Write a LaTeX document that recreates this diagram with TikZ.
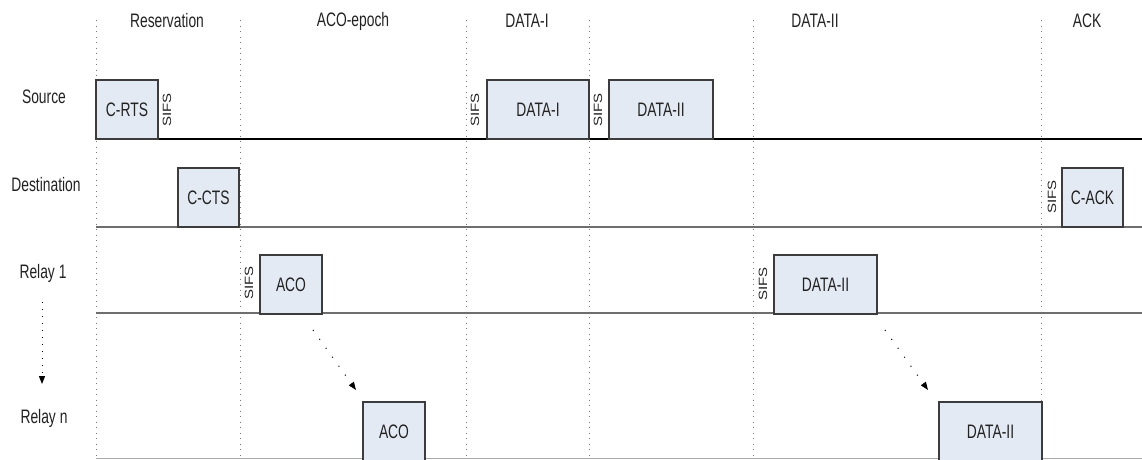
\documentclass[tikz,border=0pt]{standalone}
\usepackage{fontspec}
\setmainfont{Liberation Sans}[FakeStretch=0.71]
\newfontfamily\sifsfont{Liberation Sans}
\usetikzlibrary{arrows.meta}
\definecolor{pktfill}{HTML}{E4EAF4}
\definecolor{pktdraw}{HTML}{3C3C3C}
\definecolor{txt}{HTML}{222222}
\definecolor{gridgray}{HTML}{7A7A7A}
\definecolor{lanegray}{HTML}{6E6E6E}
\begin{document}
\begin{tikzpicture}[x=1pt,y=-1pt,
  every node/.style={inner sep=0pt,outer sep=0pt,text=txt,font=\fontsize{19.5}{21}\selectfont},
  pkt/.style={draw=pktdraw,line width=1.4pt,fill=pktfill,anchor=north west,minimum height=59pt},
  sifs/.style={rotate=90,font=\fontsize{15}{16}\sifsfont},
  epochline/.style={gridgray,line width=1pt,dash pattern=on 1pt off 4.5pt},
  srcline/.style={black,line width=1.6pt},
  laneline/.style={lanegray,line width=2.4pt},
  hint/.style={black,line width=1pt,dash pattern=on 1pt off 6pt,-{Triangle[length=8pt,width=6pt]}},
  diaghint/.style={hint,dash pattern=on 1pt off 10pt}]
\useasboundingbox (0,0) rectangle (1142,459);

% epoch boundaries
\foreach \xx in {96,240,466,589,753,1041}
  \draw[epochline] (\xx,20) -- (\xx,459);

% epoch headings
\node (hres) at (167,21) {Reservation};
\node (haco) at (353,21) {ACO-epoch};
\node (hd1)  at (527,21) {DATA-I};
\node (hd2)  at (815,21) {DATA-II};
\node (hack) at (1087,21) {ACK};

% station labels
\node (lsrc) at (44,97)  {Source};
\node (ldst) at (46,185) {Destination};
\node (lr1)  at (43,273) {Relay 1};
\node (lrn)  at (44,418) {Relay n};
\coordinate (r1down) at (42,302);
\coordinate (rnup)   at (42,384);
\draw[hint] (r1down) -- (rnup);

% time axes of the stations
\draw[srcline]  (96,139) -- (1142,139);
\draw[laneline] (96,227) -- (1142,227);
\draw[laneline] (96,313) -- (1142,313);
\draw[lanegray!60,line width=1.5pt] (96,458.5) -- (1142,458.5);

% source frames
\node[pkt,minimum width=62pt]  (crts)  at (96,80)  {C-RTS};
\node[pkt,minimum width=102pt] (data1) at (487,80) {DATA-I};
\node[pkt,minimum width=104pt] (data2) at (609,80) {DATA-II};
% destination frames
\node[pkt,minimum width=61pt]  (ccts)  at (178,168) {C-CTS};
\node[pkt,minimum width=61pt]  (cack)  at (1062,168) {C-ACK};
% relay 1 frames
\node[pkt,minimum width=62pt]  (aco1)  at (260,255) {ACO};
\node[pkt,minimum width=103pt] (r1d2)  at (774,255) {DATA-II};
% relay n frames
\node[pkt,minimum width=62pt]  (acon)  at (363,402) {ACO};
\node[pkt,minimum width=103pt] (rnd2)  at (939,402) {DATA-II};

% SIFS gaps
\node[sifs] (s1) at (167,110) {\scalebox{1}[0.8]{SIFS}};
\node[sifs] (s2) at (475,110) {\scalebox{1}[0.8]{SIFS}};
\node[sifs] (s3) at (598,110) {\scalebox{1}[0.8]{SIFS}};
\node[sifs] (s4) at (1052,197) {\scalebox{1}[0.8]{SIFS}};
\node[sifs] (s5) at (249,283) {\scalebox{1}[0.8]{SIFS}};
\node[sifs] (s6) at (763,284) {\scalebox{1}[0.8]{SIFS}};

% forwarding hints between relays
\coordinate (acofrom) at (313,330);
\coordinate (acoto)   at (356,390);
\coordinate (d2from)  at (885,330);
\coordinate (d2to)    at (928,390);
\draw[diaghint] (acofrom) -- (acoto);
\draw[diaghint] (d2from) -- (d2to);
\end{tikzpicture}
\end{document}
